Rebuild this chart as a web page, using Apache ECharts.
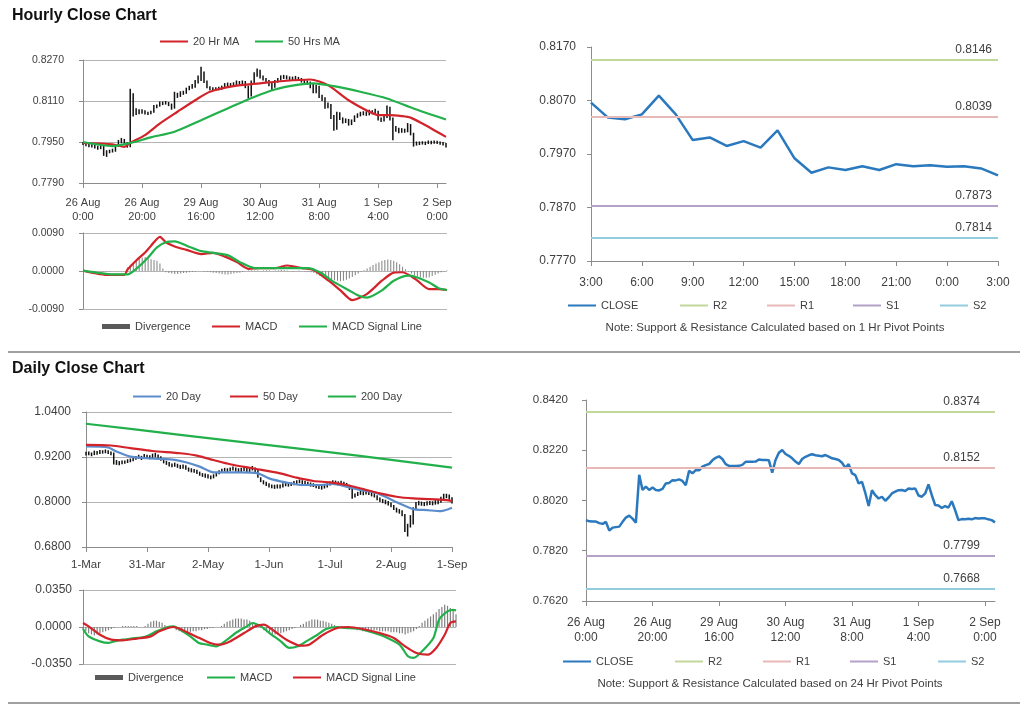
<!DOCTYPE html>
<html><head><meta charset="utf-8">
<script src="https://cdn.jsdelivr.net/npm/echarts@6/dist/echarts.min.js"></script>
<style>html,body{margin:0;padding:0;background:#fff}#c{width:1024px;height:706px}</style>
</head><body><div id="c"></div>
<script>
// ================= DATA =================
const hourTicks = ['26 Aug\n0:00','26 Aug\n20:00','29 Aug\n16:00','30 Aug\n12:00','31 Aug\n8:00','1 Sep\n4:00','2 Sep\n0:00'];
const hourClose = [.7942,.7937,.7936,.7936,.7930,.7927,.7935,.7900,.7912,.7914,
 .7916,.7935,.7952,.7960,.7948,.7932,.8122,.8062,.8075,.8062,
 .8072,.8062,.8060,.8066,.8088,.8090,.8101,.8100,.8104,.8098,
 .8081,.8138,.8128,.8141,.8140,.8155,.8161,.8165,.8180,.8190,
 .8196,.8185,.8165,.8158,.8157,.8157,.8158,.8162,.8174,.8174,
 .8174,.8175,.8183,.8181,.8181,.8180,.8131,.8181,.8210,.8221,
 .8205,.8198,.8188,.8175,.8165,.8185,.8194,.8200,.8204,.8200,
 .8198,.8196,.8201,.8195,.8188,.8185,.8181,.8170,.8150,.8165,
 .8128,.8121,.8088,.8094,.8050,.7998,.8061,.8041,.8028,.8035,
 .8019,.8032,.8048,.8055,.8061,.8062,.8058,.8068,.8066,.8068,
 .8040,.8035,.8048,.8084,.8041,.8002,.8000,.7990,.7998,.7992,
 .8017,.7982,.7942,.7946,.7945,.7947,.7945,.7950,.7948,.7949,
 .7949,.7945,.7942,.7933];
const hourHigh = [.7950,.7946,.7942,.7941,.7938,.7935,.7940,.7937,.7918,.7920,
 .7924,.7940,.7958,.7966,.7962,.7950,.8158,.8140,.8082,.8078,
 .8078,.8074,.8068,.8072,.8094,.8096,.8108,.8108,.8110,.8106,
 .8100,.8146,.8142,.8148,.8150,.8162,.8170,.8176,.8192,.8210,
 .8244,.8225,.8190,.8168,.8164,.8164,.8166,.8170,.8180,.8182,
 .8180,.8183,.8190,.8188,.8190,.8188,.8170,.8190,.8222,.8237,
 .8232,.8210,.8200,.8192,.8180,.8192,.8200,.8210,.8212,.8210,
 .8206,.8205,.8208,.8204,.8200,.8194,.8190,.8186,.8178,.8172,
 .8170,.8134,.8125,.8104,.8098,.8055,.8068,.8066,.8046,.8042,
 .8040,.8038,.8054,.8062,.8068,.8070,.8070,.8076,.8074,.8080,
 .8072,.8046,.8056,.8092,.8088,.8046,.8012,.8006,.8004,.8002,
 .8024,.8020,.7986,.7952,.7952,.7953,.7952,.7956,.7955,.7956,
 .7955,.7952,.7950,.7946];
const hourLow = [.7938,.7933,.7930,.7929,.7925,.7920,.7922,.7896,.7892,.7906,
 .7909,.7912,.7933,.7945,.7942,.7928,.7930,.8050,.8055,.8058,
 .8060,.8057,.8055,.8058,.8064,.8082,.8088,.8094,.8096,.8090,
 .8076,.8080,.8122,.8126,.8134,.8138,.8152,.8158,.8162,.8178,
 .8188,.8180,.8160,.8152,.8150,.8150,.8152,.8154,.8160,.8168,
 .8166,.8168,.8170,.8174,.8175,.8160,.8120,.8128,.8178,.8205,
 .8198,.8190,.8180,.8168,.8152,.8162,.8182,.8190,.8196,.8194,
 .8190,.8190,.8192,.8188,.8182,.8178,.8174,.8160,.8140,.8140,
 .8122,.8110,.8080,.8082,.8040,.7994,.7998,.8036,.8022,.8024,
 .8014,.8016,.8028,.8044,.8050,.8054,.8052,.8054,.8058,.8060,
 .8034,.8028,.8030,.8044,.8034,.7957,.7990,.7984,.7986,.7986,
 .7988,.7976,.7932,.7936,.7938,.7940,.7938,.7942,.7941,.7943,
 .7942,.7939,.7936,.7929];
// moving averages read at [hour index, value]
const ma20h = [[0,.7946],[10,.7941],[14,.7931],[16,.7946],[21,.7977],[26,.8022],[32,.8068],[38,.8113],[43,.8146],[51,.8168],[60,.8179],[68,.8188],[77,.8194],[83,.8172],[90,.8113],[97,.8068],[100,.8055],[104,.8055],[108,.8051],[111,.8045],[115,.8022],[119,.7996],[123,.7970]];
const ma50h = [[0,.7950],[10,.7934],[16,.7946],[23,.7968],[31,.7990],[40,.8035],[49,.8081],[58,.8126],[65,.8155],[72,.8172],[78,.8179],[85,.8168],[94,.8146],[103,.8120],[112,.8081],[123,.8038]];
const macdH = [[0,.0001],[4,-.0005],[8,-.0009],[14,-.0009],[15,.0003],[18,.0025],[21,.0044],[23,.0060],[26,.0081],[28,.0068],[31,.0058],[35,.0050],[40,.0040],[44,.0043],[48,.0034],[52,.0021],[56,.0005],[60,.0007],[65,.0007],[69,.0013],[74,.0007],[78,.0002],[83,-.0023],[87,-.0046],[91,-.0069],[96,-.0054],[101,-.0023],[105,-.0004],[108,-.0003],[111,-.0013],[113,-.0023],[117,-.0043],[120,-.0043],[123,-.0045]];
const signalH = [[0,.0001],[6,-.0005],[10,-.0008],[15,-.0008],[18,.0005],[22,.0032],[25,.0056],[28,.0068],[31,.0070],[35,.0060],[40,.0047],[44,.0043],[49,.0037],[53,.0021],[58,.0007],[62,.0007],[69,.0007],[76,.0007],[80,-.0003],[85,-.0027],[90,-.0046],[93,-.0058],[96,-.0063],[101,-.0046],[105,-.0023],[110,-.0011],[112,-.0013],[117,-.0027],[120,-.0040],[123,-.0045]];
const divH = [0,0,0,0,0,0,0,-.0001,-.0001,-.0001,0,0,0,0,0,
 .0008,.0015,.0020,.0026,.0030,.0032,.0033,.0030,.0028,.0026,.0024,.0018,.0006,
 -.0003,-.0005,-.0006,-.0007,-.0007,-.0006,-.0005,-.0004,-.0003,-.0002,-.0001,0,0,-.0001,-.0002,-.0003,-.0004,-.0005,-.0006,-.0007,-.0008,-.0008,-.0007,-.0006,-.0005,-.0004,-.0002,0,.0001,.0002,.0001,
 .0001,0,.0001,.0002,.0001,0,.0001,.0002,.0003,.0002,.0001,0,-.0001,0,.0001,0,-.0001,-.0002,-.0003,
 -.0005,-.0008,-.0011,-.0014,-.0017,-.0019,-.0021,-.0022,-.0023,-.0024,-.0023,-.0021,-.0018,-.0014,-.0010,-.0006,-.0002,.0002,
 .0006,.0010,.0014,.0018,.0021,.0024,.0026,.0027,.0026,.0024,.0021,.0016,.0010,.0004,
 -.0002,-.0006,-.0010,-.0013,-.0015,-.0016,-.0016,-.0015,-.0012,-.0009,-.0006,-.0003,-.0001,.0001];

const pivotHourTicks = ['3:00','6:00','9:00','12:00','15:00','18:00','21:00','0:00','3:00'];
const close1h = [.8066,.8038,.8035,.8044,.8079,.8044,.7996,.8001,.7985,.7994,.7982,.8014,.7962,.7935,.7945,.7940,.7947,.7940,.7951,.7947,.7949,.7946,.7947,.7943,.7930];
const pivotNames = ['R2','R1','S1','S2'];
const pivots1h = [0.8146, 0.8039, 0.7873, 0.7814];
const pivots24h = [0.8374, 0.8152, 0.7799, 0.7668];

const dayTicks = ['1-Mar','31-Mar','2-May','1-Jun','1-Jul','2-Aug','1-Sep'];
const dayHigh = [.934,.935,.932,.937,.936,.939,.938,.940,.938,.935,
 .932,.912,.909,.911,.911,.914,.916,.920,.923,.926,
 .923,.928,.926,.925,.929,.931,.927,.922,.915,.910,
 .907,.903,.905,.902,.899,.900,.898,.892,.890,.888,
 .886,.881,.877,.876,.874,.871,.874,.880,.885,.889,
 .891,.890,.892,.895,.892,.890,.891,.894,.891,.889,
 .896,.892,.886,.866,.858,.854,.850,.847,.846,.847,
 .847,.850,.852,.852,.853,.856,.858,.860,.858,.856,
 .854,.852,.850,.848,.846,.844,.846,.850,.855,.858,
 .857,.855,.857,.854,.851,.846,.836,.823,.827,.830,
 .829,.831,.830,.826,.823,.818,.812,.808,.806,.803,
 .799,.792,.785,.781,.778,.768,.742,.765,.786,.800,
 .803,.801,.800,.802,.803,.802,.805,.806,.814,.822,
 .822,.820,.813];
const dayLow = [.924,.925,.922,.925,.926,.928,.929,.930,.928,.925,
 .900,.899,.898,.901,.902,.904,.906,.909,.913,.915,
 .912,.916,.915,.914,.917,.919,.915,.910,.903,.899,
 .895,.893,.894,.891,.888,.889,.886,.881,.879,.878,
 .875,.870,.867,.865,.863,.861,.863,.868,.874,.879,
 .881,.879,.882,.884,.881,.879,.880,.883,.880,.879,
 .884,.880,.865,.853,.847,.843,.839,.837,.835,.836,
 .836,.839,.842,.841,.843,.845,.848,.850,.847,.845,
 .844,.841,.840,.837,.835,.833,.836,.839,.844,.847,
 .846,.844,.846,.843,.839,.832,.809,.812,.816,.819,
 .818,.820,.819,.815,.812,.805,.800,.797,.794,.791,
 .786,.779,.772,.769,.762,.720,.708,.732,.740,.778,
 .791,.790,.789,.791,.792,.791,.793,.794,.798,.806,
 .810,.806,.796];
const ma20d = [[0,.948],[8,.9453],[11,.9345],[16,.9211],[22,.9167],[27,.915],[32,.9122],[36,.906],[41,.8944],[46,.8792],[51,.8792],[56,.8792],[62,.8765],[66,.8631],[72,.8524],[78,.8453],[84,.8453],[89,.848],[94,.8408],[99,.8319],[104,.8256],[108,.814],[113,.7961],[118,.781],[123,.7783],[128,.7756],[132,.7846]];
const ma50d = [[0,.9524],[9,.9506],[16,.9435],[24,.936],[34,.930],[40,.9238],[46,.912],[52,.9006],[60,.8899],[70,.8765],[76,.8649],[82,.856],[88,.8524],[94,.8453],[100,.8345],[106,.8229],[112,.814],[118,.8095],[124,.8077],[130,.805],[132,.8023]];
const ma200d = [[0,1.0087],[34,.9792],[65,.9524],[98,.9237],[132,.8916]];
const macdD = [[0,-.0019],[2,-.0089],[6,-.0136],[9,-.0151],[11,-.0136],[14,-.012],[17,-.011],[22,-.0092],[26,-.0041],[30,0],[32,.0006],[34,-.0019],[38,-.0089],[41,-.0151],[44,-.0167],[47,-.0183],[51,-.012],[54,-.0057],[58,.0006],[60,.0038],[63,.0006],[66,-.0057],[70,-.0136],[73,-.0198],[76,-.0183],[79,-.0136],[83,-.0073],[86,-.0019],[90,0],[93,-.0009],[98,-.0019],[103,-.0057],[107,-.0094],[112,-.0167],[115,-.0277],[117,-.0293],[120,-.023],[124,-.0104],[126,.0069],[129,.0147],[131,.0162],[132,.0157]];
const signalD = [[0,.0038],[2,.0006],[6,-.0073],[10,-.012],[14,-.0126],[19,-.011],[24,-.0089],[27,-.0041],[32,0],[35,-.0025],[40,-.0089],[45,-.0151],[48,-.0167],[52,-.0136],[57,-.0057],[61,.0006],[64,.0022],[67,-.0025],[72,-.012],[77,-.0176],[80,-.0167],[85,-.0073],[90,-.0009],[94,0],[99,-.0019],[105,-.0057],[110,-.0104],[114,-.0183],[118,-.0246],[122,-.0262],[125,-.0198],[128,-.0073],[130,.0038],[132,.0053]];
const divD = [-.002,-.004,-.006,-.007,-.008,-.007,-.006,-.005,-.004,
 -.003,-.002,-.001,0,0,.001,.001,
 .001,.001,.001,.001,0,0,.001,
 .003,.005,.006,.006,.005,.004,.002,.001,
 0,-.001,-.003,-.004,-.005,-.006,-.006,-.005,
 -.004,-.004,-.003,-.003,-.002,-.002,-.001,-.001,0,0,
 .001,.003,.005,.006,.007,.008,.008,.008,.007,.007,.006,.004,.003,.001,
 -.001,-.003,-.005,-.006,-.007,-.007,-.007,-.006,-.005,-.004,-.003,-.002,-.001,0,
 .002,.003,.005,.006,.007,.007,.007,.006,.006,.005,.004,.003,.002,.001,
 0,-.001,-.001,-.001,-.002,-.002,
 -.003,-.003,-.004,-.004,-.004,-.003,-.003,-.003,-.004,-.004,-.004,-.004,-.005,-.005,-.005,-.006,-.006,-.007,-.006,-.005,-.004,-.002,
 .001,.004,.006,.008,.010,.012,.014,.017,.019,.021,.020,.018,.016,.012];

// ================= CHART =================
const FONT = '"Liberation Sans", Arial, Helvetica, sans-serif';
const TXT = '#404040';
const AX = '#8c8c8c';
const GRIDC = '#b4b4b4';
const RED = '#d2232a', GREEN = '#22b04b', BLUE = '#2a78bd', BLUE2 = '#5b8ccb', HIST = '#808080';
const pivotColors = ['#c3d69b', '#e6b9b8', '#b3a2c7', '#93cddd'];

const idx = arr => arr.map((_, i) => i);

function xCat(gi, cats, ticks, step, o) {
  return {
    type: 'category', gridIndex: gi, data: cats, boundaryGap: false, show: o.show !== false,
    axisLine: {show: true, onZero: false, lineStyle: {color: AX}},
    axisTick: {show: true, interval: step - 1, length: 5, lineStyle: {color: AX}},
    axisLabel: {show: !!ticks, interval: step - 1,
      formatter: (v, i) => (ticks && ticks[Math.round(i / step)]) || '',
      color: TXT, fontFamily: FONT, fontSize: o.fs || 11, margin: o.m || 8, lineHeight: o.lh || 14},
    splitLine: {show: false}
  };
}
function yVal(gi, min, max, step, o) {
  return {
    type: 'value', gridIndex: gi, min: min, max: max, interval: step,
    axisLine: {show: true, lineStyle: {color: AX}},
    axisTick: {show: true, length: 4, lineStyle: {color: AX}},
    axisLabel: {formatter: v => v.toFixed(4), color: TXT, fontFamily: FONT, fontSize: o.fs, margin: o.m},
    splitLine: {show: !!o.split, lineStyle: {color: GRIDC, width: 1}}
  };
}
function hlBars(params, api) {
  const x = api.value(0);
  const a = api.coord([x, api.value(1)]);
  const b = api.coord([x, api.value(2)]);
  return {type: 'line', shape: {x1: a[0], y1: a[1], x2: b[0], y2: b[1]}, style: {stroke: '#111', lineWidth: 1.5}};
}
function lineS(name, gi, data, color, w) {
  return {type: 'line', name: name, xAxisIndex: gi, yAxisIndex: gi, data: data, color: color,
    symbol: 'none', smooth: 0.25, lineStyle: {color: color, width: w || 2.2}, z: 3};
}
function pivotSeries(suffix, values, gi, dist) {
  return values.map((v, k) => ({
    type: 'line', name: pivotNames[k] + '|' + suffix, xAxisIndex: gi, yAxisIndex: gi, data: [],
    color: pivotColors[k], symbol: 'none', lineStyle: {color: pivotColors[k], width: 2},
    markLine: {silent: true, symbol: ['none', 'none'], animation: false, precision: 4,
      lineStyle: {color: pivotColors[k], width: 2, type: 'solid'},
      label: {show: true, position: 'insideEndTop', formatter: p => Number(p.value).toFixed(4),
        color: TXT, fontFamily: FONT, fontSize: 12, distance: dist},
      data: [{yAxis: v}]}
  }));
}
function leg(name, x, yc, extra) {
  return Object.assign({
    data: [name], left: x, top: yc - 7, padding: 0, itemWidth: 28, itemHeight: 2, icon: 'rect',
    selectedMode: false, formatter: n => n.split('|')[0],
    textStyle: {fontSize: 11, color: TXT, fontFamily: FONT}
  }, extra || {});
}
function divLeg(name, x, yc) {
  return leg({name: name, icon: 'rect', itemStyle: {color: '#5a5a5a'}}, x, yc, {itemHeight: 5});
}

const hourCats = idx(hourClose), pivCats = idx(close1h), dayCats = idx(dayHigh);

const option = {
  animation: false,
  backgroundColor: '#fff',
  textStyle: {fontFamily: FONT},
  title: [
    {text: 'Hourly Close Chart', left: 12, top: 8, padding: 0, textStyle: {fontSize: 16, fontWeight: 'bold', color: '#111', fontFamily: FONT}},
    {text: 'Daily Close Chart', left: 12, top: 361, padding: 0, textStyle: {fontSize: 16, fontWeight: 'bold', color: '#111', fontFamily: FONT}}
  ],
  grid: [
    {left: 83, top: 60, width: 363, height: 123},
    {left: 83, top: 233, width: 364, height: 76},
    {left: 591, top: 47, width: 407, height: 214},
    {left: 86, top: 412, width: 366, height: 135},
    {left: 83, top: 590, width: 373, height: 74},
    {left: 586, top: 400, width: 409, height: 201}
  ],
  xAxis: [
    xCat(0, hourCats, hourTicks, 20, {fs: 11, m: 13, lh: 14}),
    xCat(1, hourCats, null, 20, {show: false}),
    xCat(2, pivCats, pivotHourTicks, 3, {fs: 12, m: 15}),
    xCat(3, dayCats, dayTicks, 22, {fs: 11.5, m: 11}),
    xCat(4, dayCats, null, 22, {show: false}),
    xCat(5, hourCats, hourTicks, 20, {fs: 12, m: 14, lh: 15})
  ],
  yAxis: [
    yVal(0, 0.779, 0.827, 0.016, {fs: 10.5, m: 19, split: true}),
    yVal(1, -0.009, 0.009, 0.009, {fs: 10.5, m: 19, split: true}),
    yVal(2, 0.777, 0.817, 0.01, {fs: 12, m: 15}),
    yVal(3, 0.68, 1.04, 0.12, {fs: 12, m: 15, split: true}),
    yVal(4, -0.035, 0.035, 0.035, {fs: 12, m: 11, split: true}),
    yVal(5, 0.762, 0.842, 0.02, {fs: 11.5, m: 18})
  ],
  legend: [
    leg('20 Hr MA', 160, 43), leg('50 Hrs MA', 255, 43),
    divLeg('Divergence|h', 102, 328), leg('MACD|h', 212, 328), leg('MACD Signal Line|h', 299, 328),
    leg('CLOSE|1', 568, 307), leg('R2|1', 680, 307), leg('R1|1', 767, 307), leg('S1|1', 853, 307), leg('S2|1', 940, 307),
    leg('20 Day', 133, 398), leg('50 Day', 230, 398), leg('200 Day', 328, 398),
    divLeg('Divergence|d', 95, 679), leg('MACD|d', 207, 679), leg('MACD Signal Line|d', 293, 679),
    leg('CLOSE|24', 563, 663), leg('R2|24', 675, 663), leg('R1|24', 763, 663), leg('S1|24', 850, 663), leg('S2|24', 938, 663)
  ],
  graphic: [
    {type: 'line', shape: {x1: 8, y1: 352, x2: 1020, y2: 352}, style: {stroke: '#a0a0a0', lineWidth: 2}},
    {type: 'line', shape: {x1: 8, y1: 703, x2: 1020, y2: 703}, style: {stroke: '#a0a0a0', lineWidth: 2}},
    {type: 'text', x: 775, y: 328, style: {text: 'Note: Support & Resistance Calculated based on 1 Hr Pivot Points', fill: TXT, font: '11.5px "Liberation Sans", Arial, sans-serif', align: 'center', verticalAlign: 'middle'}},
    {type: 'text', x: 770, y: 684, style: {text: 'Note: Support & Resistance Calculated based on 24 Hr Pivot Points', fill: TXT, font: '11.5px "Liberation Sans", Arial, sans-serif', align: 'center', verticalAlign: 'middle'}}
  ],
  series: [
    // hourly price
    {type: 'custom', name: 'hourBars', xAxisIndex: 0, yAxisIndex: 0, renderItem: hlBars,
      encode: {x: 0, y: [1, 2]}, data: hourLow.map((lo, i) => [i, lo, hourHigh[i]]), z: 2},
    lineS('20 Hr MA', 0, ma20h, RED),
    lineS('50 Hrs MA', 0, ma50h, GREEN),
    // hourly MACD
    {type: 'bar', name: 'Divergence|h', xAxisIndex: 1, yAxisIndex: 1, data: divH, barWidth: 1, color: HIST, itemStyle: {color: HIST}, z: 2},
    lineS('MACD|h', 1, macdH, RED, 2.2),
    lineS('MACD Signal Line|h', 1, signalH, GREEN, 2.2),
    // 1 hr pivot chart
    ...pivotSeries('1', pivots1h, 2, [6, 4]),
    {type: 'line', name: 'CLOSE|1', xAxisIndex: 2, yAxisIndex: 2, data: close1h, color: BLUE, symbol: 'none', lineStyle: {color: BLUE, width: 2.5}, z: 4},
    // daily price
    {type: 'custom', name: 'dayBars', xAxisIndex: 3, yAxisIndex: 3, renderItem: hlBars,
      encode: {x: 0, y: [1, 2]}, data: dayLow.map((lo, i) => [i, lo, dayHigh[i]]), z: 2},
    lineS('20 Day', 3, ma20d, BLUE2),
    lineS('50 Day', 3, ma50d, RED),
    lineS('200 Day', 3, ma200d, GREEN),
    // daily MACD
    {type: 'bar', name: 'Divergence|d', xAxisIndex: 4, yAxisIndex: 4, data: divD, barWidth: 1.2, color: HIST, itemStyle: {color: HIST}, z: 2},
    lineS('MACD|d', 4, macdD, GREEN, 2.2),
    lineS('MACD Signal Line|d', 4, signalD, RED, 2.2),
    // 24 hr pivot chart
    ...pivotSeries('24', pivots24h, 5, [15, 4]),
    {type: 'line', name: 'CLOSE|24', xAxisIndex: 5, yAxisIndex: 5, data: hourClose, color: BLUE, symbol: 'none', lineStyle: {color: BLUE, width: 2.5}, z: 4}
  ]
};
const chart = echarts.init(document.getElementById('c'), null, {renderer: 'canvas'});
chart.setOption(option);
</script>
</body></html>
